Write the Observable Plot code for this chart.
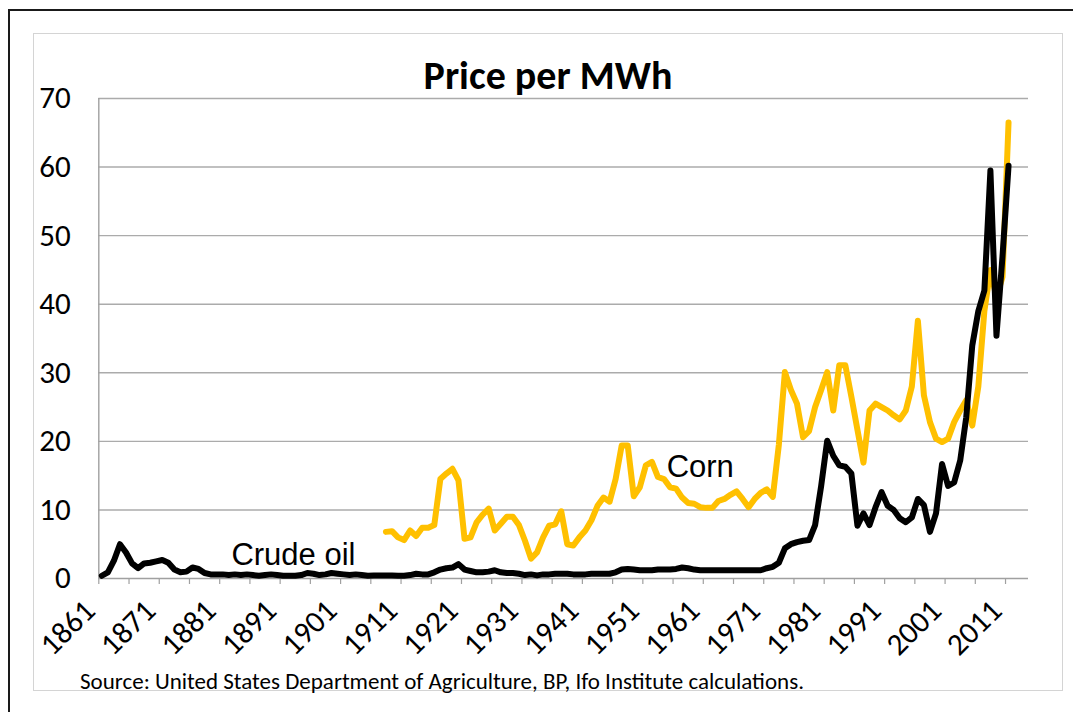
<!DOCTYPE html>
<html>
<head>
<meta charset="utf-8">
<script src="https://cdn.jsdelivr.net/npm/d3@7"></script>
<script src="https://cdn.jsdelivr.net/npm/@observablehq/plot@0.6"></script>
<style>
  html, body { margin: 0; padding: 0; background: #fff; }
  #page { position: relative; width: 1073px; height: 712px; overflow: hidden; background: #fff; }
  #outer { position: absolute; left: 8px; top: 9px; width: 1100px; height: 760px; border-top: 2px solid #1a1a1a; border-left: 2px solid #1a1a1a; }
  #box { position: absolute; left: 33px; top: 33px; width: 1028px; height: 656px; border: 1.5px solid #d4d4d4; }
  #chart { position: absolute; left: 0; top: 0; }
  #title { position: absolute; left: 33px; width: 1030px; top: 52px; text-align: center; font-family: Carlito, Lato, sans-serif; font-weight: bold; font-size: 40px; line-height: 48px; color: #000; }
  #source { position: absolute; left: 80px; top: 667px; font-family: Carlito, Lato, sans-serif; font-size: 23px; line-height: 28px; color: #000; white-space: nowrap; }
</style>
</head>
<body>
<div id="page">
  <div id="outer"></div>
  <div id="box"></div>
  <div id="chart"></div>
  <div id="title">Price per MWh</div>
  <div id="source">Source: United States Department of Agriculture, BP, Ifo Institute calculations.</div>
</div>
<script>
// ---- data ----
const crudeYears = d3.range(1861, 2012);
const crudeValues = [
  0.4, 0.9, 2.6, 5.0, 3.8, 2.2, 1.5, 2.2, 2.3, 2.5,       // 1861-1870
  2.7, 2.3, 1.3, 0.9, 1.0, 1.6, 1.4, 0.8, 0.6, 0.6,       // 1871-1880
  0.6, 0.5, 0.6, 0.5, 0.6, 0.5, 0.4, 0.5, 0.6, 0.5,       // 1881-1890
  0.4, 0.4, 0.4, 0.5, 0.8, 0.7, 0.5, 0.6, 0.8, 0.7,       // 1891-1900
  0.6, 0.5, 0.6, 0.5, 0.4, 0.45, 0.45, 0.45, 0.45, 0.4,   // 1901-1910
  0.4, 0.5, 0.7, 0.6, 0.6, 0.9, 1.3, 1.5, 1.6, 2.1,       // 1911-1920
  1.3, 1.1, 0.9, 0.9, 1.0, 1.2, 0.9, 0.8, 0.8, 0.7,       // 1921-1930
  0.5, 0.6, 0.45, 0.6, 0.6, 0.7, 0.7, 0.7, 0.6, 0.6,      // 1931-1940
  0.6, 0.7, 0.7, 0.7, 0.7, 0.9, 1.3, 1.4, 1.3, 1.2,       // 1941-1950
  1.2, 1.2, 1.3, 1.3, 1.3, 1.4, 1.6, 1.5, 1.3, 1.2,       // 1951-1960
  1.2, 1.2, 1.2, 1.2, 1.2, 1.2, 1.2, 1.2, 1.2, 1.2,       // 1961-1970
  1.5, 1.7, 2.3, 4.4, 5.0, 5.3, 5.5, 5.6, 7.8, 13.5,      // 1971-1980
  20.1, 17.9, 16.5, 16.3, 15.3, 7.7, 9.5, 7.8, 10.4, 12.6, // 1981-1990
  10.6, 10.0, 8.8, 8.2, 8.9, 11.6, 10.7, 6.8, 9.5, 16.7,  // 1991-2000
  13.5, 14.0, 17.2, 23.5, 34.0, 39.0, 42.0, 59.5, 35.4, 47.0, // 2001-2010
  60.2                                                     // 2011
];
const cornYears = d3.range(1908, 2012);
const cornValues = [
  6.8, 6.9, 6.0,                                           // 1908-1910
  5.6, 7.0, 6.2, 7.4, 7.4, 7.8, 14.5, 15.3, 16.0, 14.3,    // 1911-1920
  5.8, 6.0, 8.2, 9.3, 10.2, 7.0, 8.0, 9.0, 9.0, 7.8,       // 1921-1930
  5.5, 2.9, 3.8, 6.0, 7.7, 7.9, 9.8, 5.0, 4.8, 6.0,        // 1931-1940
  7.0, 8.5, 10.6, 11.8, 11.2, 14.5, 19.4, 19.4, 12.0, 13.3, // 1941-1950
  16.5, 17.0, 14.8, 14.5, 13.3, 13.1, 11.8, 11.0, 10.9, 10.4, // 1951-1960
  10.3, 10.3, 11.3, 11.6, 12.2, 12.7, 11.6, 10.4, 11.6, 12.5, // 1961-1970
  13.0, 11.9, 19.5, 30.1, 27.5, 25.5, 20.6, 21.5, 25.0, 27.5, // 1971-1980
  30.1, 24.5, 31.1, 31.1, 26.5, 21.7, 16.9, 24.5, 25.5, 25.0, // 1981-1990
  24.5, 23.8, 23.2, 24.5, 28.0, 37.6, 26.7, 22.8, 20.4, 19.9, // 1991-2000
  20.4, 22.8, 24.5, 26.0, 22.3, 28.0, 39.0, 45.0, 41.0, 44.0, // 2001-2010
  66.5                                                       // 2011
];
const yTicks = [0, 10, 20, 30, 40, 50, 60, 70];
const labelYears = d3.range(1861, 2012, 10);          // 1861, 1871, ... 2011
const tickBoundaries = d3.range(1860.5, 2011, 5);     // category boundaries every 5 years
const seriesLabels = [
  {name: "Crude oil", year: 1892.7, value: 3.35},
  {name: "Corn", year: 1960.0, value: 16.3}
];

const crude = crudeYears.map((y, i) => ({year: y, value: crudeValues[i]}));
const corn = cornYears.map((y, i) => ({year: y, value: cornValues[i]}));

const labelFont = "Carlito, Lato, sans-serif";

const chart = Plot.plot({
  width: 1073,
  height: 712,
  marginLeft: 98.3,
  marginRight: 45,
  marginTop: 98,
  marginBottom: 134,
  style: {background: "transparent", overflow: "visible"},
  x: {type: "linear", domain: [1860.5, 2014.3], label: null},
  y: {type: "linear", domain: [0, 70], label: null},
  marks: [
    Plot.ruleY(yTicks.filter(d => d > 0), {stroke: "#ababab", strokeWidth: 1.4}),
    Plot.ruleY([0], {stroke: "#a0a0a0", strokeWidth: 1.4}),
    Plot.ruleX([1860.5], {stroke: "#a0a0a0", strokeWidth: 1.4}),
    Plot.axisX({ticks: tickBoundaries, tickSize: 6, tickFormat: () => "", stroke: "#a0a0a0", strokeWidth: 1.2, label: null}),
    Plot.axisY({ticks: yTicks, tickSize: 0, tickPadding: 28, fontSize: 31, fontFamily: labelFont, fill: "#000", label: null}),
    Plot.text(labelYears, {
      x: d => d, y: () => 0, text: d => String(d),
      rotate: -45, textAnchor: "end", lineAnchor: "middle",
      dx: -12, dy: 27, fontSize: 31, fontFamily: labelFont, fill: "#000"
    }),
    Plot.line(corn, {x: "year", y: "value", stroke: "#FFC000", strokeWidth: 6, strokeLinejoin: "round"}),
    Plot.line(crude, {x: "year", y: "value", stroke: "#000", strokeWidth: 6, strokeLinejoin: "round"}),
    Plot.text(seriesLabels, {x: "year", y: "value", text: "name", fontSize: 31, fontFamily: "Liberation Sans, Arial, sans-serif", fill: "#000"})
  ]
});
document.getElementById("chart").appendChild(chart);
</script>
</body>
</html>
